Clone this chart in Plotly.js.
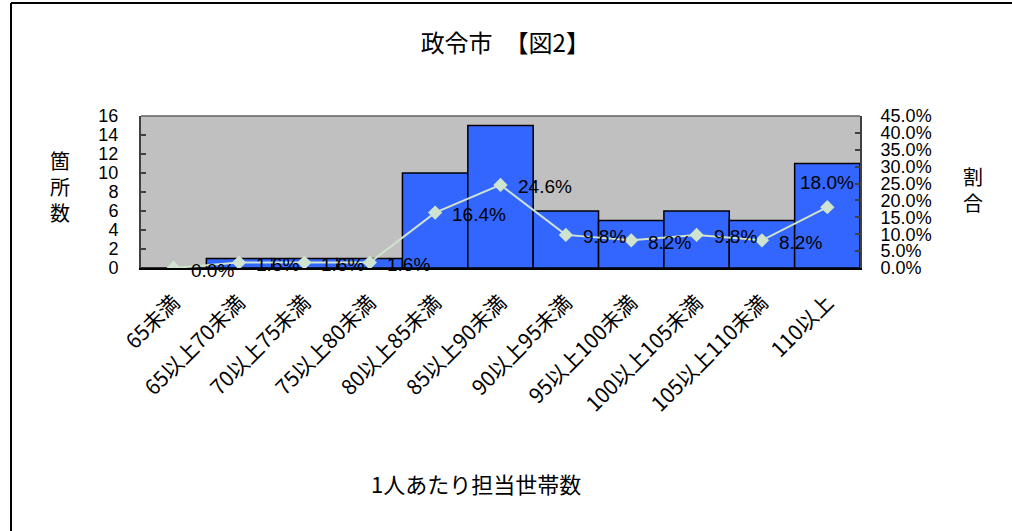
<!DOCTYPE html>
<html>
<head>
<meta charset="utf-8">
<script src="https://cdn.plot.ly/plotly-3.0.1.min.js"></script>
<style>html,body{margin:0;padding:0;background:#fff;}#chart{width:1012px;height:531px;}</style>
</head>
<body>
<div id="chart"></div>
<script>
const categories = ["65未満","65以上70未満","70以上75未満","75以上80未満","80以上85未満","85以上90未満","90以上95未満","95以上100未満","100以上105未満","105以上110未満","110以上"];
const counts = [0, 1, 1, 1, 10, 15, 6, 5, 6, 5, 11];
const shares = [0.0, 0.016, 0.016, 0.016, 0.164, 0.246, 0.098, 0.082, 0.098, 0.082, 0.180];
const shareLabels = ["0.0%","1.6%","1.6%","1.6%","16.4%","24.6%","9.8%","8.2%","9.8%","8.2%","18.0%"];

const titleText = "政令市　【図2】";
const xTitle = "1人あたり担当世帯数";
const yTitle = "箇<br>所<br>数";
const y2Title = "割<br>合";

const cjk = '"Noto Sans CJK JP", "Noto Sans", sans-serif';
const narrow = '"Liberation Sans Narrow", "Liberation Sans", Arial, sans-serif';

const W = 1012, H = 531;
const L = 141, R = 860, T = 116, B = 268;
const px = v => (v - L) / (R - L);
const py = v => (B - v) / (B - T);

const traces = [
  {
    type: 'bar', x: categories, y: counts, yaxis: 'y',
    marker: {color: '#3366ff', line: {color: '#000000', width: 1.5}},
    hoverinfo: 'skip'
  },
  {
    type: 'scatter', mode: 'lines+markers', x: categories, y: shares, yaxis: 'y2',
    line: {color: '#cfe3cf', width: 2},
    marker: {symbol: 'diamond', size: 11, color: '#cfe3cf'},
    hoverinfo: 'skip'
  }
];

const last = categories.length - 1;
const annotations = categories.map((c, i) => {
  const base = {
    x: c, y: shares[i], xref: 'x', yref: 'y2',
    text: shareLabels[i], showarrow: false,
    font: {family: narrow, size: 19, color: '#000'}
  };
  if (i === last) {
    // last label sits above its marker so it stays clear of the right axis
    return Object.assign(base, {xanchor: 'center', yanchor: 'bottom', yshift: 12});
  }
  return Object.assign(base, {xanchor: 'left', yanchor: 'middle', xshift: 15, yshift: -2});
});

annotations.push(
  {x: px(60), y: py(186), xref: 'paper', yref: 'paper', text: yTitle, showarrow: false,
   xanchor: 'center', yanchor: 'middle', font: {family: cjk, size: 20, color: '#000'}},
  {x: px(973), y: py(189), xref: 'paper', yref: 'paper', text: y2Title, showarrow: false,
   xanchor: 'center', yanchor: 'middle', font: {family: cjk, size: 20, color: '#000'}},
  {x: px(476), y: py(483), xref: 'paper', yref: 'paper', text: xTitle, showarrow: false,
   xanchor: 'center', yanchor: 'middle', font: {family: cjk, size: 22, color: '#000'}}
);

const layout = {
  width: W, height: H,
  margin: {l: L, r: W - R, t: T, b: H - B, pad: 0},
  paper_bgcolor: '#ffffff', plot_bgcolor: '#c0c0c0',
  showlegend: false, bargap: 0,
  title: {text: titleText, x: px(500), xanchor: 'center', y: 1 - 44 / H, yanchor: 'middle',
          font: {family: cjk, size: 24, color: '#000'}},
  xaxis: {
    type: 'category', range: [-0.5, 10.5], tickangle: -45,
    tickfont: {family: cjk, size: 21, color: '#000'},
    ticklabelstandoff: 12,
    showline: true, linecolor: '#000', linewidth: 2, mirror: false,
    showgrid: false, ticks: '', zeroline: false, fixedrange: true
  },
  yaxis: {
    range: [0, 16], dtick: 2, tick0: 0,
    ticks: 'inside', ticklen: 5, tickcolor: '#404040', tickwidth: 2,
    tickfont: {family: narrow, size: 18, color: '#000'},
    ticklabelstandoff: 17,
    showline: true, linecolor: '#404040', linewidth: 2,
    showgrid: false, zeroline: false, fixedrange: true
  },
  yaxis2: {
    overlaying: 'y', side: 'right', range: [0, 0.45], dtick: 0.05, tick0: 0,
    tickformat: '.1%',
    ticks: 'inside', ticklen: 5, tickcolor: '#404040', tickwidth: 2,
    tickfont: {family: narrow, size: 18, color: '#000'},
    ticklabelstandoff: 15,
    showline: true, linecolor: '#404040', linewidth: 2,
    showgrid: false, zeroline: false, fixedrange: true
  },
  annotations: annotations,
  shapes: [
    {type: 'line', xref: 'paper', yref: 'paper', x0: px(L), x1: px(R), y0: 1, y1: 1,
     line: {color: '#606060', width: 1.5}},
    {type: 'line', xref: 'paper', yref: 'paper', x0: px(11), x1: px(1012), y0: py(3), y1: py(3),
     line: {color: '#000', width: 2}},
    {type: 'line', xref: 'paper', yref: 'paper', x0: px(11), x1: px(11), y0: py(3), y1: py(531),
     line: {color: '#000', width: 2}}
  ]
};

Plotly.newPlot('chart', traces, layout, {displayModeBar: false, staticPlot: true});
</script>
</body>
</html>
